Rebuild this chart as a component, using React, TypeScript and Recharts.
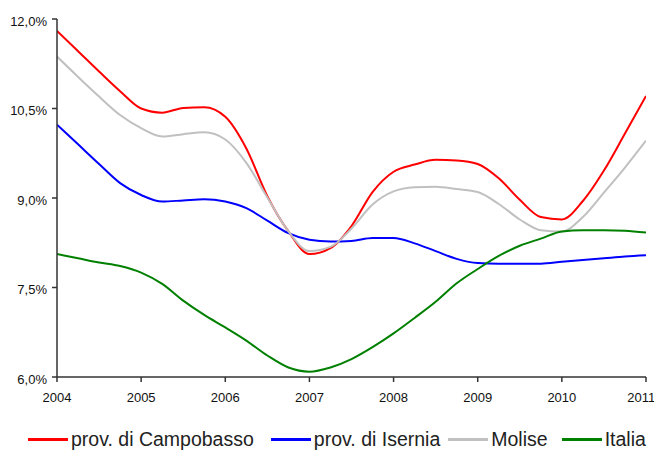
import React from "react";
import { LineChart, Line, XAxis, YAxis, Legend } from "recharts";

const times = [
  2004, 2004.25, 2004.5, 2004.75, 2005, 2005.25, 2005.5, 2005.75, 2006, 2006.25, 2006.5, 2006.75,
  2007, 2007.25, 2007.5, 2007.75, 2008, 2008.25, 2008.5, 2008.75, 2009, 2009.25, 2009.5, 2009.75,
  2010, 2010.25, 2010.5, 2010.75, 2011,
];

const campobasso = [
  11.8, 11.46, 11.12, 10.79, 10.5, 10.43, 10.51, 10.52, 10.36, 9.83, 9.03, 8.44,
  8.06, 8.16, 8.53, 9.1, 9.44, 9.56, 9.64, 9.63, 9.57, 9.33, 8.97, 8.68,
  8.64, 8.95, 9.46, 10.08, 10.71,
];

const isernia = [
  10.23, 9.9, 9.57, 9.25, 9.05, 8.94, 8.96, 8.98, 8.94, 8.83, 8.62, 8.41,
  8.3, 8.27, 8.28, 8.33, 8.33, 8.24, 8.11, 7.98, 7.91, 7.9, 7.9, 7.9,
  7.93, 7.96, 7.99, 8.02, 8.04,
];

const molise = [
  11.37, 11.03, 10.7, 10.39, 10.17, 10.03, 10.07, 10.1, 9.98, 9.59, 9.01, 8.44,
  8.11, 8.18, 8.49, 8.89, 9.11, 9.18, 9.19, 9.15, 9.1, 8.9, 8.64, 8.46,
  8.44, 8.68, 9.09, 9.51, 9.96,
];

const italia = [
  8.06, 7.99, 7.92, 7.86, 7.75, 7.56, 7.28, 7.04, 6.83, 6.61, 6.36, 6.16,
  6.09, 6.16, 6.3, 6.5, 6.73, 6.99, 7.26, 7.57, 7.81, 8.03, 8.2, 8.32,
  8.44, 8.46, 8.46, 8.45, 8.42,
];

const xTicks = [2004, 2005, 2006, 2007, 2008, 2009, 2010, 2011];
const yTicks = [6, 7.5, 9, 10.5, 12];

const seriesNames = ["prov. di Campobasso", "prov. di Isernia", "Molise", "Italia"];
const seriesKeys = ["campobasso", "isernia", "molise", "italia"];
const seriesColors = ["#FF0000", "#0000FF", "#C0C0C0", "#008000"];

const data = times.map((t, i) => ({
  t,
  campobasso: campobasso[i],
  isernia: isernia[i],
  molise: molise[i],
  italia: italia[i],
}));

const FONT = "'Liberation Sans', Arial, sans-serif";

const fmtPct = (v: number) => v.toFixed(1).replace(".", ",") + "%";

const itemGaps = [17, 8, 14, 0];

const CustomLegend = () => (
  <div
    style={{
      height: 45,
      display: "flex",
      alignItems: "flex-end",
      justifyContent: "flex-start",
      paddingLeft: 20,
      boxSizing: "border-box",
      fontFamily: FONT,
      fontSize: 19.5,
      color: "#222",
    }}
  >
    <div style={{ display: "flex", alignItems: "center", height: 22, marginBottom: 2 }}>
      {seriesNames.map((name, i) => (
        <div key={name} style={{ display: "flex", alignItems: "center", marginRight: itemGaps[i] }}>
          <div style={{ width: 40, height: 3, background: seriesColors[i], marginRight: 3 }} />
          <span style={{ whiteSpace: "nowrap" }}>{name}</span>
        </div>
      ))}
    </div>
  </div>
);

export default function App() {
  return (
    <div style={{ width: 646, height: 444, fontFamily: FONT }}>
      <LineChart width={646} height={444} data={data} margin={{ top: 11, right: 8, bottom: 0, left: 0 }}>
        <XAxis
          dataKey="t"
          type="number"
          domain={[2004, 2011]}
          ticks={xTicks}
          height={30}
          tickSize={5}
          tickMargin={11}
          tick={{ fontSize: 13, fill: "#111", fontFamily: FONT }}
          axisLine={{ stroke: "#333", strokeWidth: 1.5 }}
          tickLine={{ stroke: "#333", strokeWidth: 1.5 }}
          allowDataOverflow
        />
        <YAxis
          type="number"
          domain={[6, 12]}
          ticks={yTicks}
          width={49}
          tickSize={5}
          tickMargin={5}
          tickFormatter={fmtPct}
          tick={{ fontSize: 13, fill: "#111", fontFamily: FONT, dy: 2 }}
          axisLine={{ stroke: "#333", strokeWidth: 1.5 }}
          tickLine={{ stroke: "#333", strokeWidth: 1.5 }}
          allowDataOverflow
        />
        <Legend verticalAlign="bottom" height={45} content={() => <CustomLegend />} />
        {seriesKeys.map((k, i) => (
          <Line
            key={k}
            dataKey={k}
            name={seriesNames[i]}
            type="monotone"
            stroke={seriesColors[i]}
            strokeWidth={2}
            dot={false}
            activeDot={false}
            isAnimationActive={false}
          />
        ))}
      </LineChart>
    </div>
  );
}
